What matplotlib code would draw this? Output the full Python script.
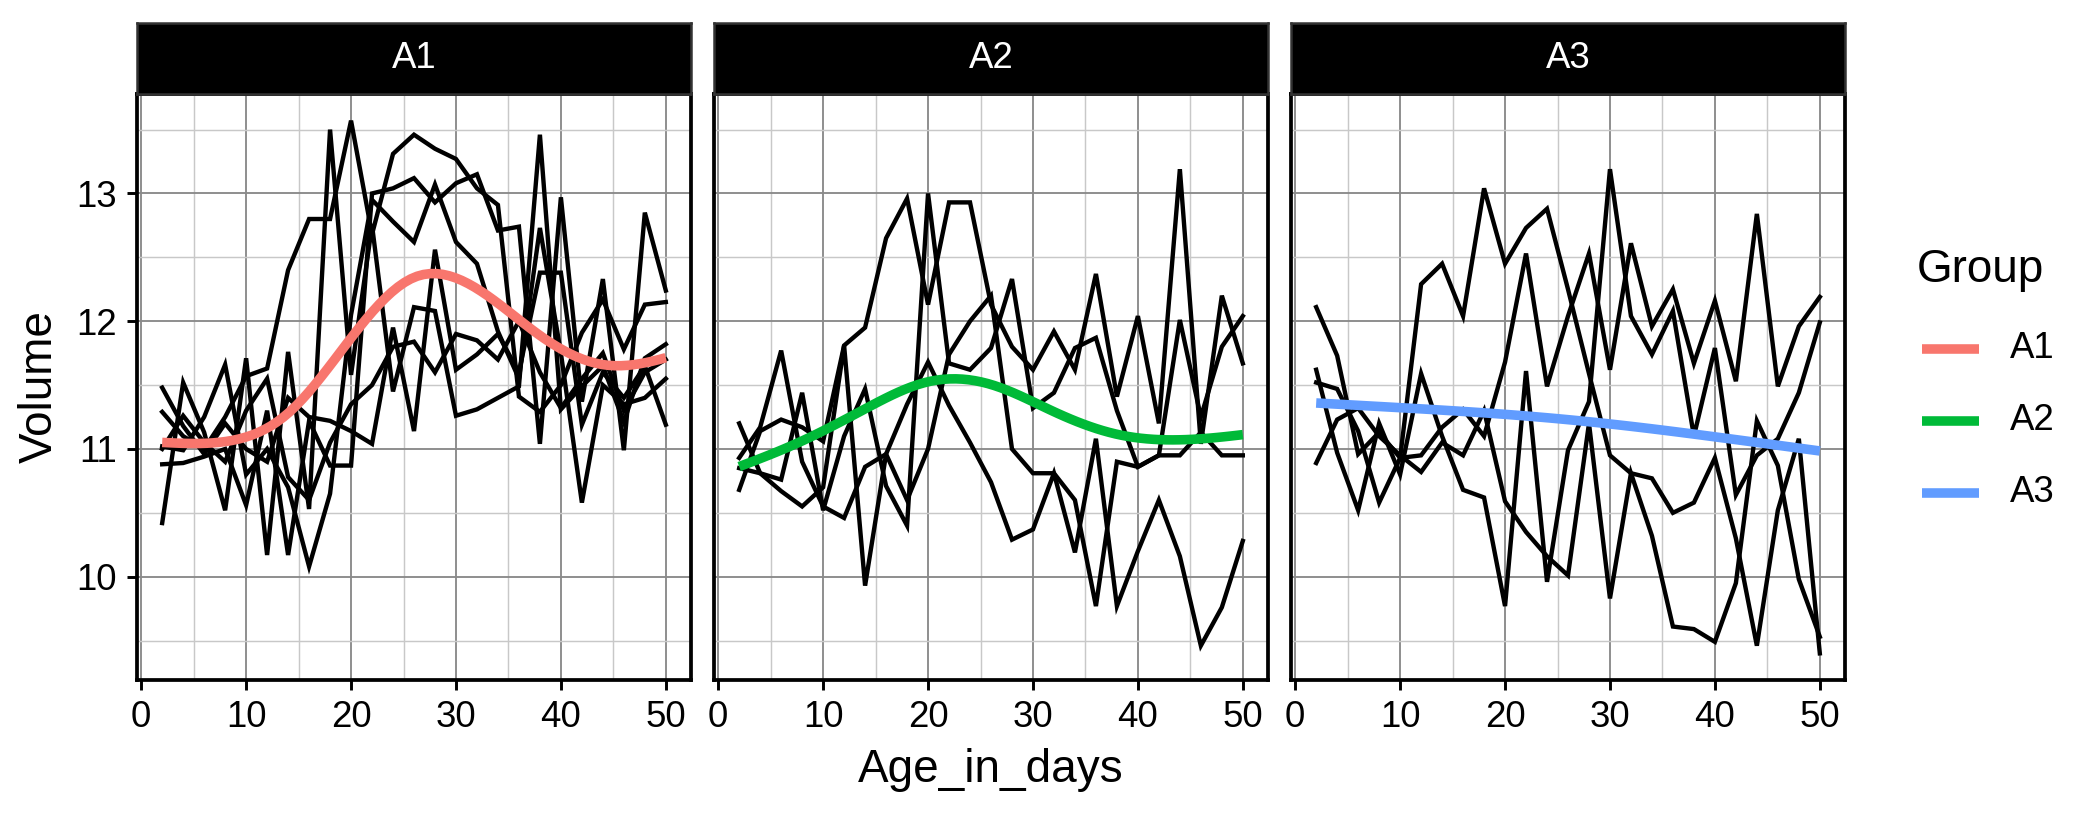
import numpy as np
import matplotlib
matplotlib.use("Agg")
import matplotlib.pyplot as plt
from matplotlib.lines import Line2D

plt.rcParams['font.family'] = ['Liberation Sans', 'DejaVu Sans']

ages = list(range(2, 51, 2))
groups = ["A1", "A2", "A3"]
group_colors = ["#F8766D", "#00BA38", "#619CFF"]

# volume of each animal per age, grouped
a1_lines = [
    [11.29, 11.10, 11.00, 11.25, 11.57, 11.63, 12.40, 12.80, 12.80, 13.57, 12.68, 13.31, 13.46, 13.35, 13.27, 13.04, 12.91, 11.41, 11.29, 11.50, 11.91, 12.17, 11.78, 12.13, 12.15],
    [10.42, 11.52, 11.13, 10.52, 11.71, 10.17, 11.76, 10.53, 13.50, 11.58, 12.75, 11.45, 12.11, 12.08, 11.26, 11.31, 11.40, 11.49, 13.46, 11.31, 11.49, 11.65, 11.21, 11.71, 11.82],
    [10.88, 10.89, 10.94, 11.00, 10.56, 11.30, 10.17, 11.22, 10.87, 10.87, 13.00, 13.04, 13.12, 12.93, 13.08, 13.15, 12.71, 12.74, 11.04, 12.97, 11.37, 12.33, 10.99, 12.85, 12.24],
    [11.02, 10.99, 11.25, 11.66, 10.80, 11.00, 10.70, 10.08, 10.65, 12.05, 12.95, 12.78, 12.62, 13.07, 12.62, 12.45, 11.92, 11.55, 12.73, 11.75, 10.58, 11.50, 11.35, 11.40, 11.55],
    [11.48, 11.18, 10.96, 11.20, 11.00, 10.90, 11.40, 11.25, 11.22, 11.14, 11.04, 11.95, 11.14, 12.56, 11.62, 11.74, 11.90, 11.60, 12.38, 12.38, 11.19, 11.60, 11.40, 11.65, 11.19],
    [11.00, 11.26, 11.05, 10.90, 11.30, 11.55, 10.78, 10.60, 11.05, 11.35, 11.50, 11.80, 11.84, 11.60, 11.90, 11.85, 11.70, 12.00, 11.60, 11.32, 11.55, 11.75, 11.30, 11.60, 11.70],
]
a2_lines = [
    [10.68, 11.14, 11.23, 11.17, 11.06, 11.81, 11.95, 12.65, 12.96, 12.13, 12.93, 12.93, 12.13, 11.80, 11.62, 11.92, 11.62, 12.37, 11.41, 12.04, 11.20, 13.19, 11.04, 12.20, 11.67],
    [11.20, 10.81, 10.76, 11.44, 10.52, 11.10, 11.47, 10.71, 10.40, 13.00, 11.67, 11.62, 11.79, 12.33, 11.32, 11.44, 11.79, 11.87, 11.30, 10.86, 10.95, 12.01, 11.25, 11.80, 12.04],
    [10.85, 10.81, 10.67, 10.55, 10.70, 11.81, 9.93, 10.96, 11.35, 11.68, 11.34, 11.05, 10.74, 10.29, 10.37, 10.81, 10.19, 11.08, 9.77, 10.20, 10.60, 10.16, 9.46, 9.76, 10.28],
    [10.93, 11.17, 11.77, 10.90, 10.55, 10.46, 10.86, 10.96, 10.60, 11.00, 11.74, 12.00, 12.20, 11.00, 10.81, 10.81, 10.60, 9.77, 10.90, 10.86, 10.95, 10.95, 11.13, 10.95, 10.95],
]
a3_lines = [
    [12.11, 11.73, 10.96, 11.13, 10.93, 12.29, 12.45, 12.04, 13.04, 12.45, 12.73, 12.88, 12.25, 11.59, 10.95, 10.81, 10.77, 10.50, 10.58, 10.93, 10.30, 9.46, 10.52, 11.08, 9.40],
    [11.62, 10.97, 10.52, 11.20, 10.80, 11.59, 11.10, 10.68, 10.62, 9.77, 11.61, 9.96, 10.99, 11.37, 13.19, 12.04, 11.74, 12.08, 11.10, 11.79, 10.64, 10.95, 11.08, 11.44, 11.99],
    [11.52, 11.47, 11.14, 10.58, 10.93, 10.95, 11.17, 11.31, 11.10, 11.68, 12.53, 11.49, 12.04, 12.53, 11.62, 12.61, 11.96, 12.25, 11.67, 12.16, 11.53, 12.84, 11.49, 11.96, 12.19],
    [10.89, 11.23, 11.32, 11.10, 10.95, 10.82, 11.05, 10.95, 11.30, 10.59, 10.35, 10.16, 10.01, 11.20, 9.83, 10.81, 10.32, 9.61, 9.59, 9.49, 9.95, 11.22, 10.87, 9.98, 9.53],
]
all_groups = [a1_lines, a2_lines, a3_lines]


def bspline_basis(x, lo, hi, nseg=8, deg=3):
    dx = (hi - lo) / nseg
    knots = lo + dx * np.arange(-deg, nseg + deg + 1)
    x = np.clip(np.asarray(x, float), lo, hi - 1e-9)
    B = np.zeros((len(x), len(knots) - 1))
    for j in range(len(knots) - 1):
        B[:, j] = (x >= knots[j]) & (x < knots[j + 1])
    for d in range(1, deg + 1):
        Bn = np.zeros((len(x), len(knots) - 1 - d))
        for j in range(len(knots) - 1 - d):
            a = (x - knots[j]) / (knots[j + d] - knots[j]) * B[:, j]
            b = (knots[j + d + 1] - x) / (knots[j + d + 1] - knots[j + 1]) * B[:, j + 1]
            Bn[:, j] = a + b
        B = Bn
    return B


def smooth_fit(x, y, xs, gamma=1.4):
    # penalised spline, 2nd-difference penalty, smoothing chosen by GCV
    x = np.asarray(x, float)
    y = np.asarray(y, float)
    lo, hi = x.min(), x.max()
    B = bspline_basis(x, lo, hi)
    D = np.diff(np.eye(B.shape[1]), n=2, axis=0)
    P = D.T @ D
    n = len(y)
    best = None
    for lam in np.logspace(-2, 8, 200):
        A = np.linalg.solve(B.T @ B + lam * P, B.T)
        coef = A @ y
        tr = np.trace(B @ A)
        rss = np.sum((y - B @ coef) ** 2)
        gcv = n * rss / (n - gamma * tr) ** 2
        if best is None or gcv < best[0]:
            best = (gcv, coef)
    return bspline_basis(xs, lo, hi) @ best[1]


allv = np.concatenate([np.ravel(g) for g in all_groups])
ymin, ymax = allv.min(), allv.max()
ypad = (ymax - ymin) * 0.05
xpad = (max(ages) - min(ages)) * 0.05

W, H = 2100, 815
fig = plt.figure(figsize=(W / 300, H / 300), dpi=300)

lefts = [137, 714, 1291]
pw = 554
top, bottom = 94, 680
strip_top = 23

for i, (name, lines, col) in enumerate(zip(groups, all_groups, group_colors)):
    ax = fig.add_axes([lefts[i] / W, (H - bottom) / H, pw / W, (bottom - top) / H])
    ax.set_xlim(min(ages) - xpad, max(ages) + xpad)
    ax.set_ylim(ymin - ypad, ymax + ypad)
    ax.set_xticks([0, 10, 20, 30, 40, 50])
    ax.set_xticks([5, 15, 25, 35, 45], minor=True)
    ax.set_yticks([10, 11, 12, 13])
    ax.set_yticks([9.5, 10.5, 11.5, 12.5, 13.5], minor=True)
    ax.grid(which='major', color='#8a8a8a', linewidth=0.45)
    ax.grid(which='minor', color='#c8c8c8', linewidth=0.35)
    ax.set_axisbelow(True)
    for s in ax.spines.values():
        s.set_color('black')
        s.set_linewidth(0.9)
    ax.tick_params(which='major', length=2.4, width=0.7, color='black',
                   labelsize=8.8, pad=2.4, labelcolor='black')
    ax.tick_params(which='minor', length=0)
    if i > 0:
        ax.tick_params(axis='y', which='major', labelleft=False, length=0)

    for vals in lines:
        ax.plot(ages, vals, color='black', linewidth=1.05, solid_joinstyle='miter', zorder=3)

    xs_all = np.tile(ages, len(lines))
    ys_all = np.concatenate(lines)
    xs = np.linspace(min(ages), max(ages), 80)
    ax.plot(xs, smooth_fit(xs_all, ys_all, xs), color=col, linewidth=2.3, zorder=4,
            solid_capstyle='butt')

    sax = fig.add_axes([lefts[i] / W, (H - top) / H, pw / W, (top - strip_top) / H])
    sax.set_facecolor('black')
    sax.set_xticks([])
    sax.set_yticks([])
    for s in sax.spines.values():
        s.set_color('#333333')
        s.set_linewidth(0.6)
    sax.text(0.5, 0.5, name, color='white', fontsize=8.8, ha='center', va='center',
             transform=sax.transAxes)

fig.text(40 / W, 1 - ((top + bottom) / 2) / H, "Volume", rotation=90, fontsize=11,
         ha='center', va='center')
fig.text((lefts[0] + lefts[2] + pw) / 2 / W, 1 - 770 / H, "Age_in_days", fontsize=11,
         ha='center', va='center')

# legend
fig.text(1917 / W, 1 - 270 / H, "Group", fontsize=11, ha='left', va='center')
for name, col, yk in zip(groups, group_colors, [349, 421, 493]):
    fig.add_artist(Line2D([1922 / W, 1979 / W], [1 - yk / H, 1 - yk / H], color=col,
                          linewidth=2.3, transform=fig.transFigure, solid_capstyle='butt'))
    fig.text(2010 / W, 1 - yk / H, name, fontsize=8.8, ha='left', va='center')

fig.savefig("out.png", dpi=300)
